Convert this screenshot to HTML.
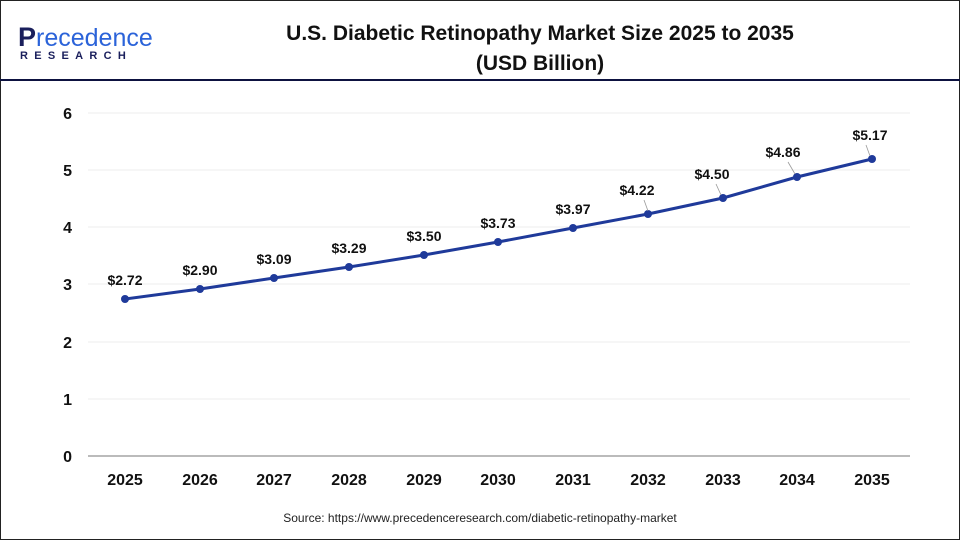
<!DOCTYPE html>
<html><head><style>
body{margin:0;width:960px;height:540px;background:#fff;overflow:hidden;font-family:"Liberation Sans",Arial,sans-serif}
</style></head><body>
<svg width="960" height="540" xmlns="http://www.w3.org/2000/svg" font-family="Liberation Sans, Arial, sans-serif">
<rect x="0.5" y="0.5" width="959" height="539" fill="#fff" stroke="#222" stroke-width="1"/>
<line x1="0" y1="80" x2="960" y2="80" stroke="#0d1240" stroke-width="2"/>
<text x="18" y="46" font-size="27" fill="#1a1f5c" font-weight="bold">P</text>
<text x="36" y="46" font-size="25" fill="#2b63d9">recedence</text>
<text x="20" y="59" font-size="11" fill="#1a1f5c" font-weight="bold" letter-spacing="6.3">RESEARCH</text>
<text x="540" y="40" font-size="21" font-weight="bold" text-anchor="middle" fill="#111">U.S. Diabetic Retinopathy Market Size 2025 to 2035</text>
<text x="540" y="70" font-size="21" font-weight="bold" text-anchor="middle" fill="#111">(USD Billion)</text>
<g stroke="#eee" stroke-width="1">
<line x1="88" x2="910" y1="113" y2="113"/><line x1="88" x2="910" y1="170" y2="170"/>
<line x1="88" x2="910" y1="227" y2="227"/><line x1="88" x2="910" y1="284" y2="284"/>
<line x1="88" x2="910" y1="342" y2="342"/><line x1="88" x2="910" y1="399" y2="399"/>
</g>
<line x1="88" x2="910" y1="456" y2="456" stroke="#bbb" stroke-width="2"/>
<g font-size="16" font-weight="bold" fill="#111" text-anchor="end">
<text x="72" y="119">6</text><text x="72" y="176">5</text><text x="72" y="233">4</text>
<text x="72" y="290">3</text><text x="72" y="348">2</text><text x="72" y="405">1</text><text x="72" y="462">0</text>
</g>
<g font-size="16" font-weight="bold" fill="#111" text-anchor="middle">
<text x="125" y="485">2025</text><text x="200" y="485">2026</text><text x="274" y="485">2027</text>
<text x="349" y="485">2028</text><text x="424" y="485">2029</text><text x="498" y="485">2030</text>
<text x="573" y="485">2031</text><text x="648" y="485">2032</text><text x="723" y="485">2033</text>
<text x="797" y="485">2034</text><text x="872" y="485">2035</text>
</g>
<polyline fill="none" stroke="#1f3a9a" stroke-width="3" points="125,299 200,289 274,278 349,267 424,255 498,242 573,228 648,214 723,198 797,177 872,159"/>
<g fill="#1f3a9a">
<circle cx="125" cy="299" r="4"/><circle cx="200" cy="289" r="4"/><circle cx="274" cy="278" r="4"/>
<circle cx="349" cy="267" r="4"/><circle cx="424" cy="255" r="4"/><circle cx="498" cy="242" r="4"/>
<circle cx="573" cy="228" r="4"/><circle cx="648" cy="214" r="4"/><circle cx="723" cy="198" r="4"/>
<circle cx="797" cy="177" r="4"/><circle cx="872" cy="159" r="4"/>
</g>
<g stroke="#999" stroke-width="0.8">
<line x1="644" y1="200" x2="648" y2="211"/><line x1="716" y1="184" x2="721" y2="195"/>
<line x1="788" y1="162" x2="795" y2="174"/><line x1="866" y1="145" x2="870" y2="156"/>
</g>
<g font-size="14" font-weight="bold" fill="#111" text-anchor="middle">
<text x="125" y="285">$2.72</text><text x="200" y="275">$2.90</text><text x="274" y="264">$3.09</text>
<text x="349" y="253">$3.29</text><text x="424" y="241">$3.50</text><text x="498" y="228">$3.73</text>
<text x="573" y="214">$3.97</text><text x="637" y="195">$4.22</text><text x="712" y="179">$4.50</text>
<text x="783" y="157">$4.86</text><text x="870" y="140">$5.17</text>
</g>
<text x="480" y="522" font-size="12" fill="#222" text-anchor="middle">Source: https://www.precedenceresearch.com/diabetic-retinopathy-market</text>
</svg>
</body></html>
